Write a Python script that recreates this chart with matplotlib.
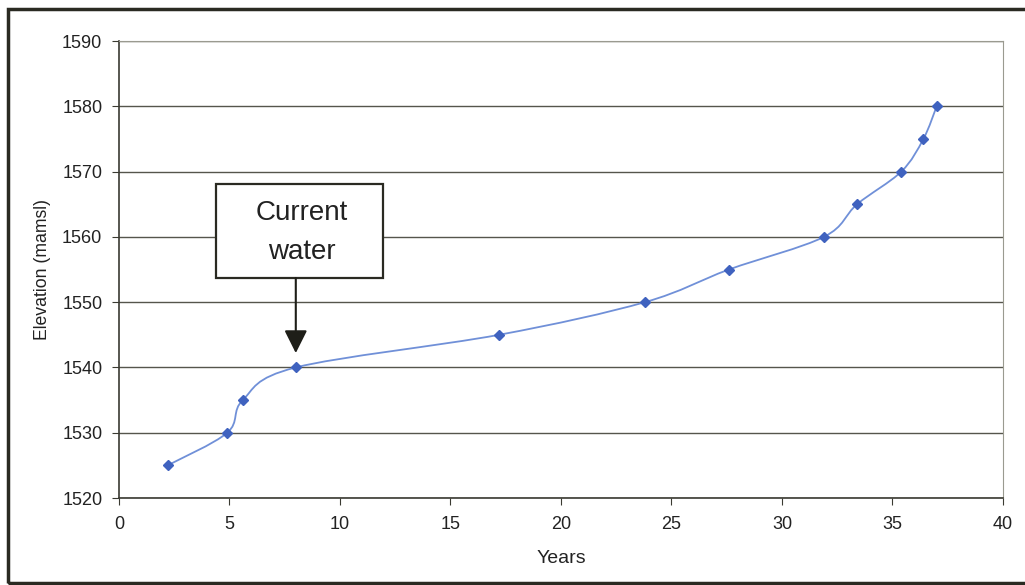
import matplotlib
matplotlib.use("Agg")
import matplotlib.pyplot as plt
import numpy as np
from matplotlib.path import Path
from matplotlib.patches import PathPatch, Rectangle

years = [2.2, 4.9, 5.6, 8.0, 17.2, 23.8, 27.6, 31.9, 33.4, 35.4, 36.4, 37.0]
elevation = [1525, 1530, 1535, 1540, 1545, 1550, 1555, 1560, 1565, 1570, 1575, 1580]
x_ticks = [0, 5, 10, 15, 20, 25, 30, 35, 40]
y_ticks = [1520, 1530, 1540, 1550, 1560, 1570, 1580, 1590]

LINE = "#7090d8"
MARK = "#3f62bf"
GRID = "#55554c"
INK = "#222222"

plt.rcParams["font.family"] = ["Liberation Sans", "DejaVu Sans"]


def smooth_path(xs, ys):
    # Excel-style smoothed line: Catmull-Rom segments as cubic Beziers
    pts = np.column_stack([xs, ys]).astype(float)
    verts = [pts[0]]
    codes = [Path.MOVETO]
    n = len(pts)
    for i in range(n - 1):
        p0 = pts[i - 1] if i > 0 else pts[i]
        p1, p2 = pts[i], pts[i + 1]
        p3 = pts[i + 2] if i + 2 < n else pts[i + 1]
        c1 = p1 + (p2 - p0) / 6
        c2 = p2 - (p3 - p1) / 6
        verts += [c1, c2, p2]
        codes += [Path.CURVE4] * 3
    return Path(verts, codes)


fig = plt.figure(figsize=(10.25, 5.85), dpi=100)
ax = fig.add_axes([0.1161, 0.1487, 0.8624, 0.7812])

ax.set_xlim(0, 40)
ax.set_ylim(1520, 1590)
ax.set_xticks(x_ticks)
ax.set_yticks(y_ticks)
ax.grid(axis="y", color=GRID, linewidth=1.0)
ax.set_axisbelow(True)
for side in ["top", "right"]:
    ax.spines[side].set_color("#9a9a90")
    ax.spines[side].set_linewidth(0.8)
for side in ["left", "bottom"]:
    ax.spines[side].set_color("#3a3a32")
    ax.spines[side].set_linewidth(1.2)
ax.tick_params(axis="both", direction="out", length=5, color="#3a3a32",
               labelsize=13, labelcolor=INK)
ax.tick_params(axis="y", pad=7)
ax.tick_params(axis="x", pad=8)

ax.add_patch(PathPatch(smooth_path(years, elevation), facecolor="none",
                       edgecolor=LINE, linewidth=1.3, zorder=3))
ax.plot(years, elevation, linestyle="none", marker="D", markersize=5.5,
        color=MARK, zorder=4)

ax.set_xlabel("Years", fontsize=14, color=INK)
ax.xaxis.set_label_coords(0.5, -0.113)
ax.set_ylabel("Elevation (mamsl)", fontsize=12.7, color=INK)
ax.yaxis.set_label_coords(-0.0765, 0.5)

# callout box with arrow pointing at the current water level
ax.add_patch(Rectangle((4.39, 1553.7), 11.95 - 4.39, 1568.1 - 1553.7,
                       facecolor="white", edgecolor="#2a2a22", linewidth=1.6,
                       zorder=5))
ax.text(8.28, 1560.7, "Current\nwater", ha="center", va="center", fontsize=20,
        color=INK, linespacing=1.65, zorder=6)
ax.annotate("", xy=(8.0, 1542.2), xytext=(8.0, 1553.7),
            arrowprops=dict(arrowstyle="-|>,head_width=0.35,head_length=0.7",
                            mutation_scale=20, color="#1e1e18", linewidth=1.5,
                            shrinkA=0, shrinkB=0), zorder=6)

fig.patches.append(Rectangle((8 / 1025, 2 / 585), 1.0, 574 / 585,
                             transform=fig.transFigure, fill=False,
                             edgecolor="#2a2a22", linewidth=2.5))

fig.savefig("out.png", dpi=100)
